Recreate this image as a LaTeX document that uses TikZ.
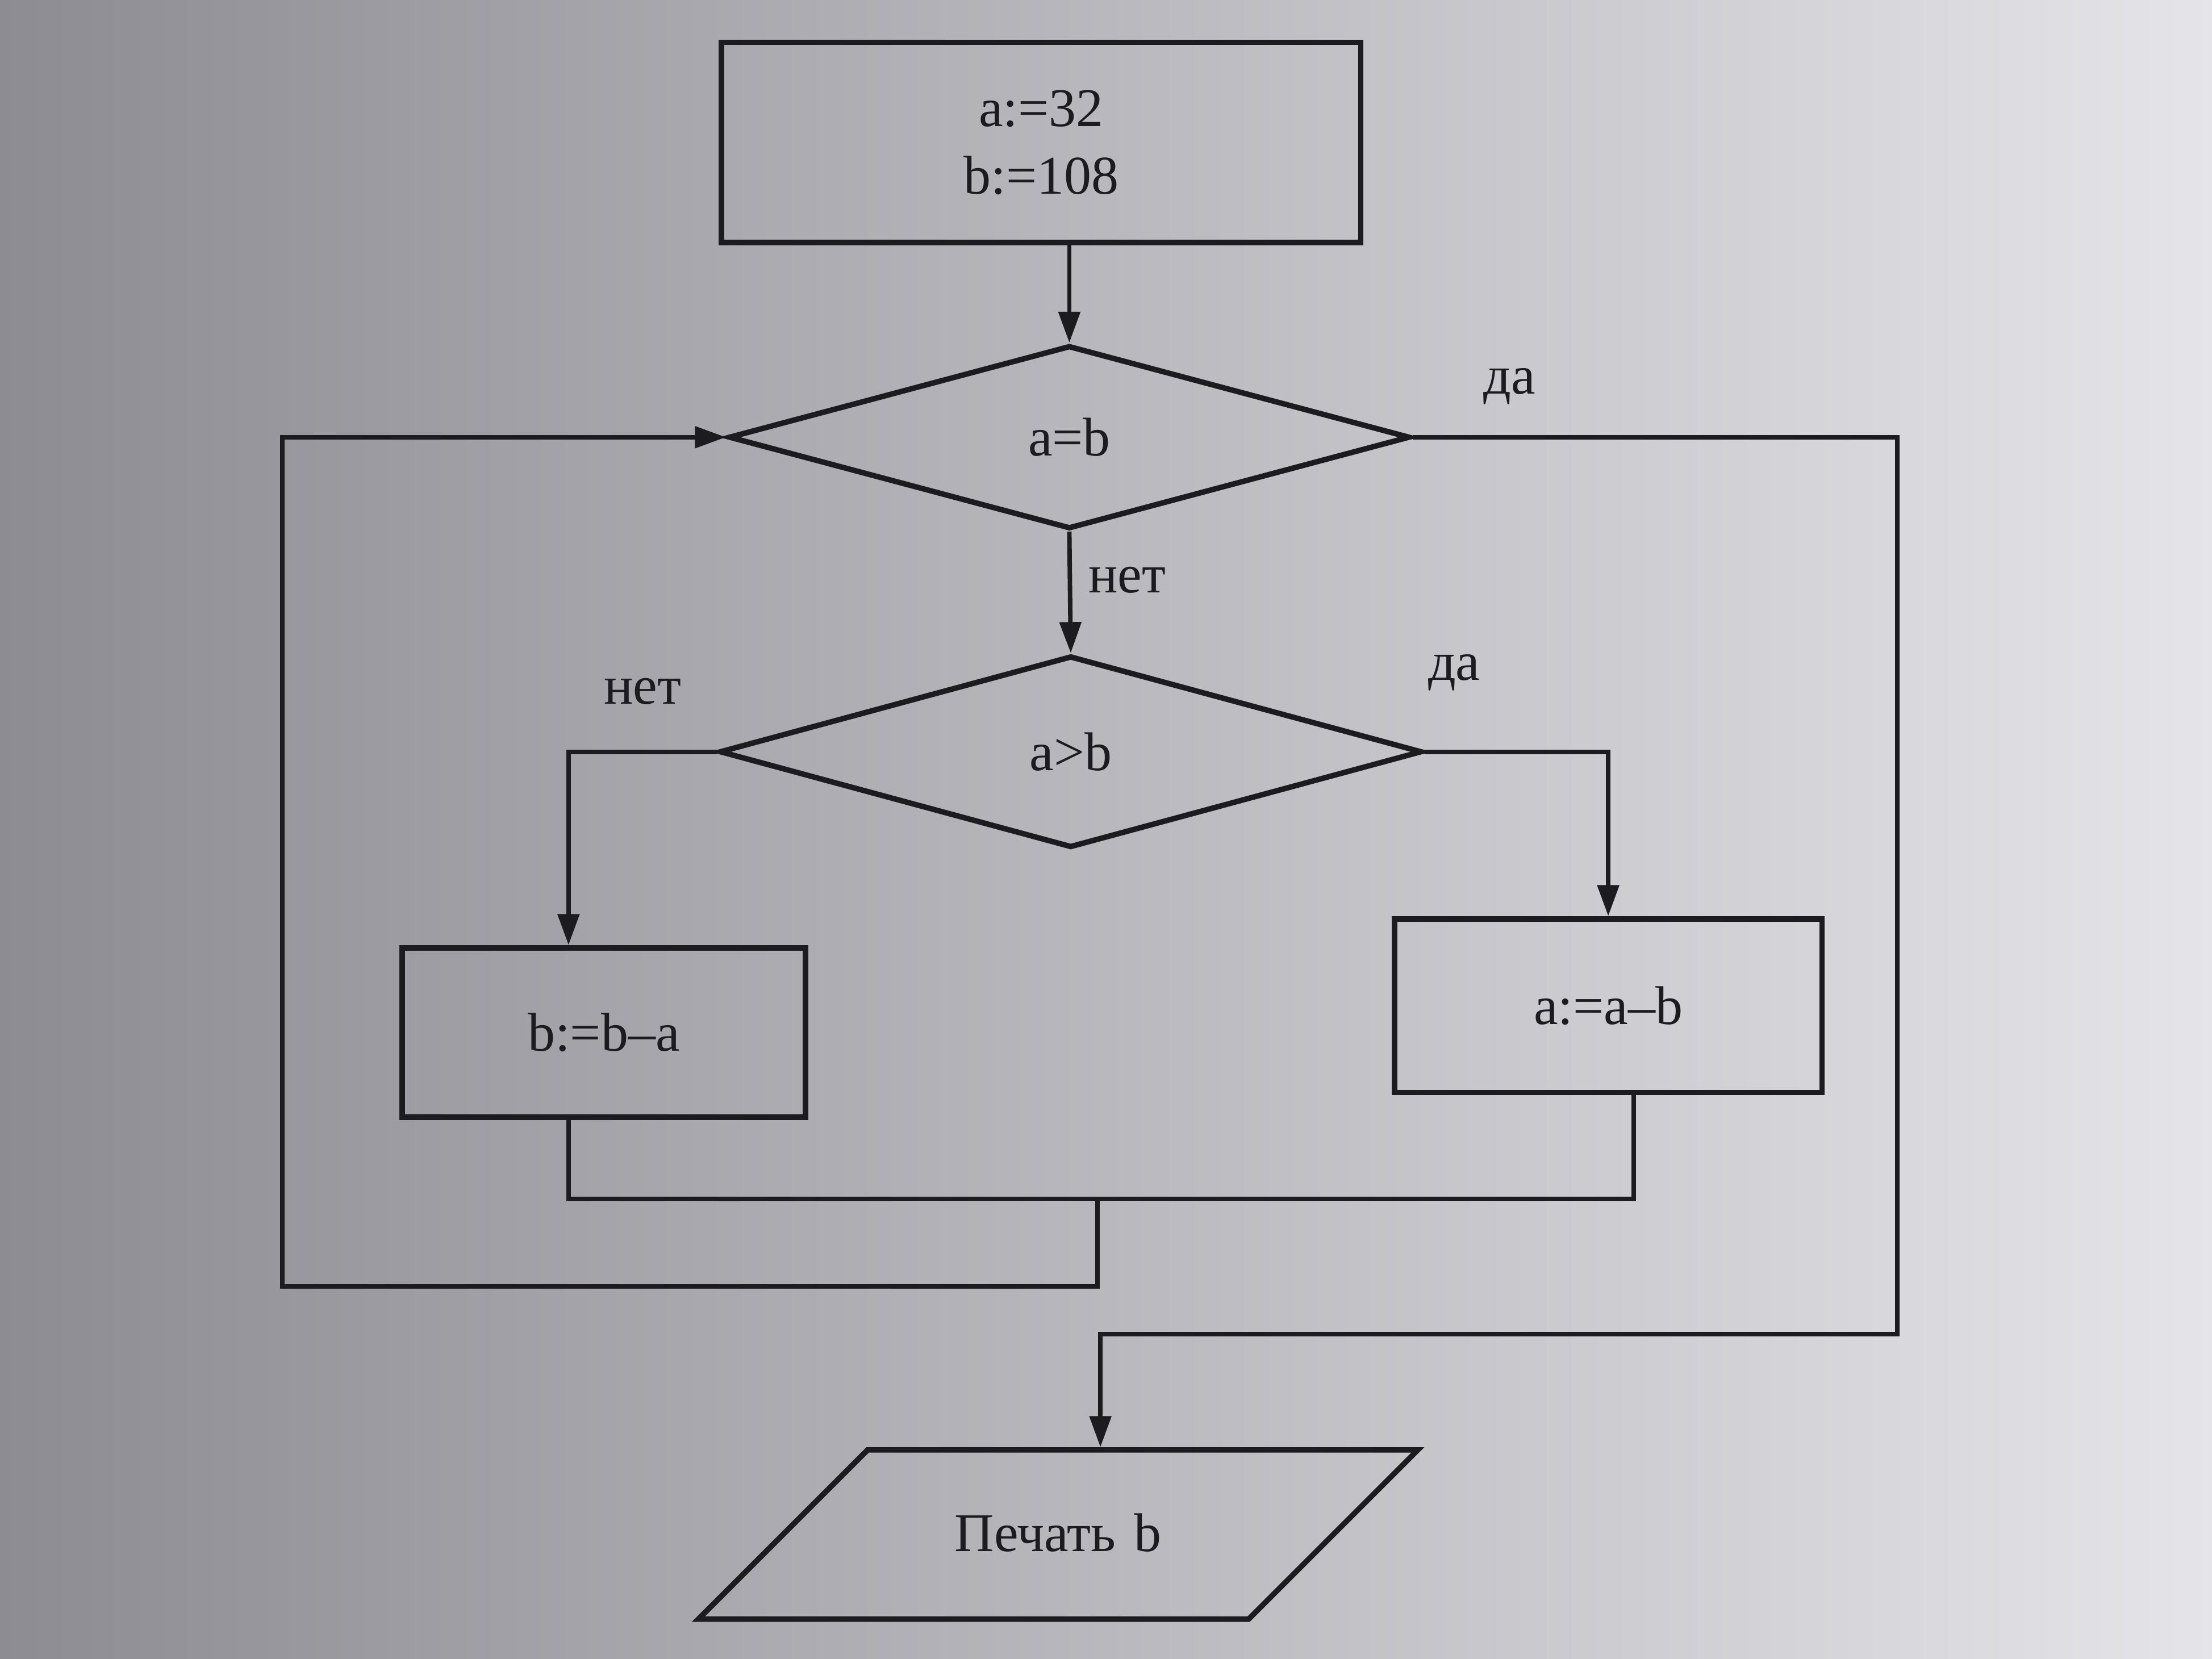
\documentclass[tikz,border=0pt]{standalone}
\usepackage{fontspec}
\setmainfont{Liberation Serif}
\usetikzlibrary{shapes.geometric,arrows.meta,positioning}
\definecolor{ink}{RGB}{28,28,32}
\definecolor{paperdark}{RGB}{140,140,146}
\definecolor{papermid}{RGB}{204,204,210}
\definecolor{paperlight}{RGB}{228,228,233}

\begin{document}
\begin{tikzpicture} [ink,
		font=\fontsize{11}{13.6}\selectfont,
		blockbox/.style={draw,line width=1.1pt,rectangle,inner sep=0pt},
		testbox/.style={draw,line width=1.1pt,diamond,inner sep=0pt},
		iobox/.style={draw,line width=1.1pt,trapezium,trapezium left angle=45,trapezium right angle=135,inner sep=0pt,text width=2.7cm,align=center,text height=0.72cm,text depth=0.48cm},
		flow/.style={line width=0.9pt},
		arrowflow/.style={flow,-{Triangle[length=2.2mm,width=1.5mm]}}]
		% Paper
		\shade[left color=paperdark,middle color=papermid,right color=paperlight] (0,0) rectangle (15.68,11.76);
		\useasboundingbox (0,0) rectangle (15.68,11.76);
		% Define blocks
		\node[blockbox,minimum width=4.53cm,minimum height=1.42cm,align=center] (init) at (7.38,10.75) {a:=32\\b:=108};
		\node[testbox,minimum width=4.83cm,minimum height=1.30cm] (eqtest) at (7.58,8.66) {a=b};
		\node[testbox,minimum width=4.98cm,minimum height=1.36cm] (gttest) at (7.59,6.43) {a>b};
		\node[blockbox,minimum width=2.86cm,minimum height=1.20cm] (subb) at (4.28,4.44) {b:=b--a};
		\node[blockbox,minimum width=3.03cm,minimum height=1.23cm] (suba) at (11.40,4.63) {a:=a--b};
		\node[iobox] (print) at (7.50,0.88) {Печать b};
		% Turning points
		\coordinate (daturn) at (13.45,2.30);
		\coordinate (merge) at (7.78,3.26);
		\coordinate (loopturn) at (2.00,2.64);
		% Connectors
		\draw[arrowflow] (eqtest.north |- init.south) -- (eqtest.north);
		\draw[arrowflow] (eqtest.south) -- node[pos=0.4,right] {нет} (gttest.north);
		\draw[arrowflow] (eqtest.east) -| node[pos=0.1,above=1mm] {да} (daturn) -| ([xshift=3mm]print.north);
		\draw[arrowflow] (gttest.west) -| node[pos=0.25,above=2mm] {нет} ([xshift=-2.5mm]subb.north);
		\draw[arrowflow] (gttest.east) -| node[pos=0.08,above=3mm] {да} (suba.north);
		\draw[flow] ([xshift=-2.5mm]subb.south) |- (merge);
		\draw[flow] ([xshift=1.8mm]suba.south) |- (merge);
		\draw[arrowflow] (merge) |- (loopturn) |- (eqtest.west);
	\end{tikzpicture}
\end{document}
